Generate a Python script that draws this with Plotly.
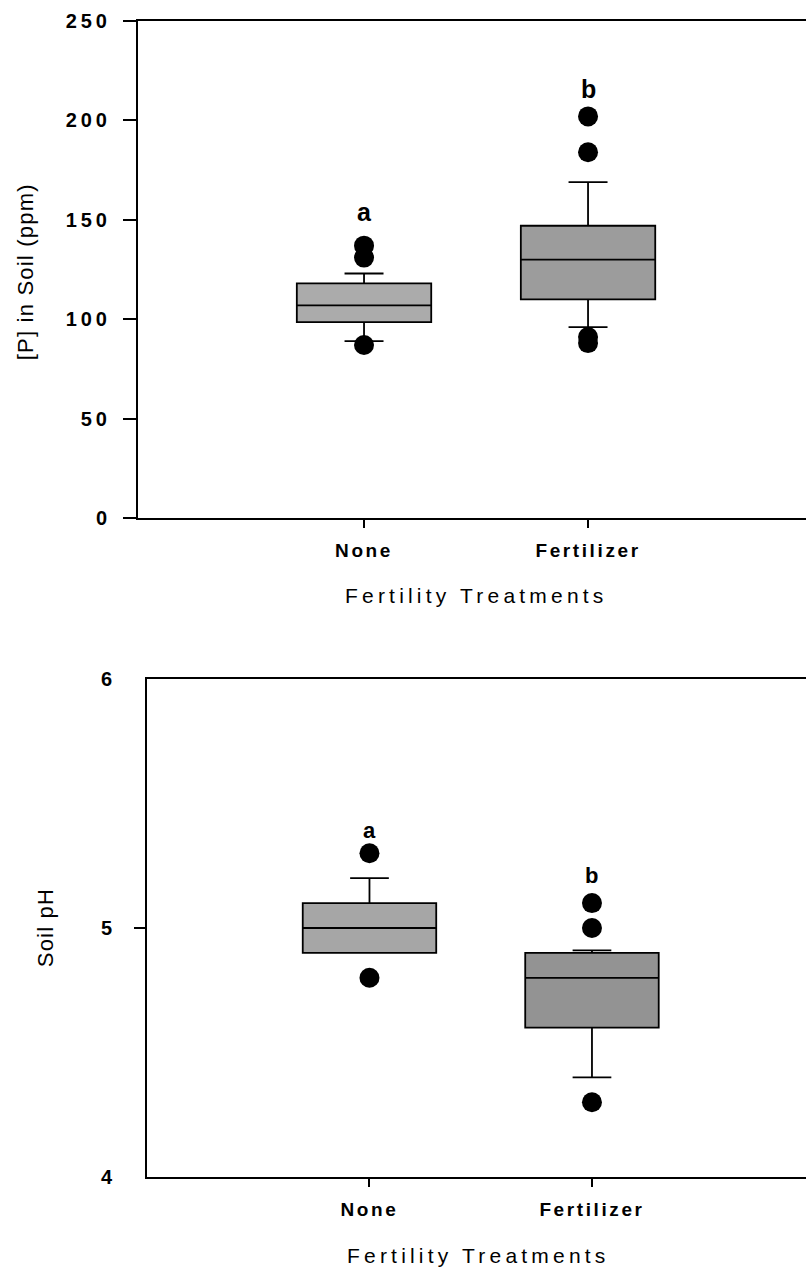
import plotly.graph_objects as go

# Fertility treatments compared in both panels
treatments = ["None", "Fertilizer"]

# Soil phosphorus, [P] in ppm: box summary per treatment
p_q1 = [98.5, 110]
p_median = [107, 130]
p_q3 = [118, 147]
p_lowerfence = [89, 96]
p_upperfence = [123, 169]
p_outliers_none = [137, 131, 87]
p_outliers_fert = [202, 184, 91, 88]

# Soil pH: box summary per treatment
ph_q1 = [4.9, 4.6]
ph_median = [5.0, 4.8]
ph_q3 = [5.1, 4.9]
ph_lowerfence = [4.9, 4.4]
ph_upperfence = [5.2, 4.91]
ph_outliers_none = [5.3, 4.8]
ph_outliers_fert = [5.1, 5.0, 4.3]

# Significance letters and where they sit
sig_letters = ["a", "b"]
p_letter_y = [154, 216]
ph_letter_y = [5.39, 5.21]

p_ticks = [0, 50, 100, 150, 200, 250]
ph_ticks = [4, 5, 6]

FONT = "Liberation Sans"
fills_p = ["#ababab", "#9c9c9c"]
fills_ph = ["#a6a6a6", "#939393"]

fig = go.Figure()


def add_boxes(q1, med, q3, lo, hi, fills, xa, ya):
    for i, name in enumerate(treatments):
        fig.add_trace(go.Box(
            x=[name], q1=[q1[i]], median=[med[i]], q3=[q3[i]],
            lowerfence=[lo[i]], upperfence=[hi[i]],
            width=0.6, whiskerwidth=0.29, boxpoints=False,
            fillcolor=fills[i], line=dict(color="black", width=1.8),
            xaxis=xa, yaxis=ya, hoverinfo="skip",
        ))


def add_outliers(name, values, xa, ya):
    fig.add_trace(go.Scatter(
        x=[name] * len(values), y=values, mode="markers",
        marker=dict(color="black", size=20, line=dict(width=0)),
        xaxis=xa, yaxis=ya, hoverinfo="skip",
    ))


add_boxes(p_q1, p_median, p_q3, p_lowerfence, p_upperfence, fills_p, "x", "y")
add_outliers("None", p_outliers_none, "x", "y")
add_outliers("Fertilizer", p_outliers_fert, "x", "y")

add_boxes(ph_q1, ph_median, ph_q3, ph_lowerfence, ph_upperfence, fills_ph, "x2", "y2")
add_outliers("None", ph_outliers_none, "x2", "y2")
add_outliers("Fertilizer", ph_outliers_fert, "x2", "y2")

# empty trace so the overlaid tick-only axis gets drawn
fig.add_trace(go.Scatter(x=[], y=[], xaxis="x2", yaxis="y3", showlegend=False))

W, H = 806, 1270

tick_font_x = dict(family=FONT, size=19, color="black", weight="bold")
tick_font_y = dict(family=FONT, size=20, color="black", weight="bold")

common_x = dict(
    type="category", categoryorder="array", categoryarray=treatments,
    showline=True, linecolor="black", linewidth=2, mirror=True,
    ticks="outside", ticklen=8, tickwidth=1.5, tickcolor="black",
    showgrid=False, zeroline=False, tickfont=tick_font_x,
    ticklabelstandoff=6, automargin=False,
)

fig.update_layout(
    template="none",
    width=W, height=H,
    margin=dict(l=0, r=0, t=0, b=0, autoexpand=False),
    paper_bgcolor="white", plot_bgcolor="white",
    showlegend=False,
    xaxis=dict(common_x, domain=[138 / W, 1], range=[-1.009, 1.973], anchor="y"),
    yaxis=dict(
        domain=[1 - 518 / H, 1 - 21 / H], range=[0, 250], anchor="x",
        tickvals=p_ticks, ticks="outside", ticklen=13, tickwidth=1.5,
        tickcolor="black", showline=True, linecolor="black", linewidth=2,
        showgrid=False, zeroline=False, tickfont=tick_font_y,
        ticklabelstandoff=8, automargin=False,
    ),
    xaxis2=dict(common_x, domain=[147 / W, 1], range=[-1.0, 1.962], anchor="y2"),
    yaxis2=dict(
        domain=[1 - 1177 / H, 1 - 679 / H], range=[4, 6], anchor="x2",
        tickvals=ph_ticks, ticks="", showline=True, linecolor="black",
        linewidth=2, showgrid=False, zeroline=False, tickfont=tick_font_y,
        ticklabelstandoff=29, automargin=False,
    ),
    yaxis3=dict(
        overlaying="y2", anchor="x2", side="left", range=[4, 6],
        tickvals=[5], ticks="outside", ticklen=12, tickwidth=1.5,
        tickcolor="black", showticklabels=False, showline=False,
        showgrid=False, zeroline=False, automargin=False,
    ),
)

title_font = dict(family=FONT, size=21, color="black")
ytitle_font = dict(family=FONT, size=22, color="black")
annotations = [
    dict(text="Fertility Treatments", x=476 / W, y=1 - 595 / H, xref="paper", yref="paper",
         showarrow=False, font=title_font, xanchor="center", yanchor="middle"),
    dict(text="Fertility Treatments", x=478 / W, y=1 - 1255 / H, xref="paper", yref="paper",
         showarrow=False, font=title_font, xanchor="center", yanchor="middle"),
    dict(text="[P] in Soil (ppm)", x=25 / W, y=1 - 272 / H, xref="paper", yref="paper",
         showarrow=False, font=ytitle_font, textangle=-90, xanchor="center", yanchor="middle"),
    dict(text="Soil pH", x=45 / W, y=1 - 928 / H, xref="paper", yref="paper",
         showarrow=False, font=ytitle_font, textangle=-90, xanchor="center", yanchor="middle"),
]
for i, name in enumerate(treatments):
    annotations.append(dict(
        text=sig_letters[i], x=name, y=p_letter_y[i], xref="x", yref="y",
        showarrow=False, font=dict(family=FONT, size=25, color="black", weight="bold"),
    ))
    annotations.append(dict(
        text=sig_letters[i], x=name, y=ph_letter_y[i], xref="x2", yref="y2",
        showarrow=False, font=dict(family=FONT, size=22, color="black", weight="bold"),
    ))
fig.update_layout(annotations=annotations)

# widen the letter spacing of the axis text
css = (
    ".xtick text,.x2tick text{letter-spacing:2.6px}"
    ".ytick text{letter-spacing:4px}"
    '.annotation[data-index="0"] text,.annotation[data-index="1"] text{letter-spacing:4.2px}'
    '.annotation[data-index="2"] text,.annotation[data-index="3"] text{letter-spacing:1.2px}'
)
post_script = (
    "var s=document.createElement('style');s.textContent='" + css + "';"
    "document.head.appendChild(s);"
)

fig.write_html("out.html", post_script=post_script)
